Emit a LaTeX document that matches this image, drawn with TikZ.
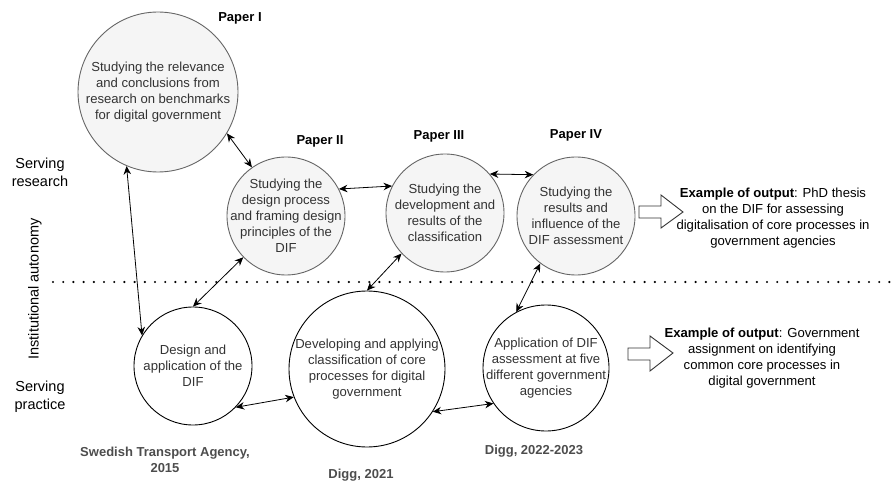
\documentclass[tikz,border=0pt]{standalone}
\usepackage{fontspec}
\setmainfont{Liberation Sans}
\usetikzlibrary{arrows.meta}
\definecolor{paperfill}{HTML}{F5F5F5}
\definecolor{paperline}{HTML}{666666}
\definecolor{papertext}{HTML}{333333}
\definecolor{placetext}{HTML}{4D4D4D}
\begin{document}
\begin{tikzpicture}[x=1pt,y=-1pt,
  font=\fontsize{13.1}{16}\selectfont,
  research/.style={circle, draw=paperline, fill=paperfill, line width=0.9pt,
    minimum size=#1, inner sep=0pt},
  practice/.style={circle, draw=black, fill=white, line width=0.9pt,
    minimum size=#1, inner sep=0pt},
  intext/.style={align=center, text=papertext},
  head/.style={font=\fontsize{13}{16}\selectfont\bfseries, text=black},
  place/.style={font=\fontsize{13}{16}\selectfont\bfseries, text=placetext, align=center},
  side/.style={align=center, text=black, font=\fontsize{14.5}{18}\selectfont},
  link/.style={{Stealth[length=8.5pt,width=7.5pt]}-{Stealth[length=8.5pt,width=7.5pt]}, line width=0.8pt, draw=black},
  outbox/.style={draw=black!80, fill=white, line width=0.9pt, line join=miter},
  outtext/.style={align=center, text=black}
]
\useasboundingbox (0,0) rectangle (894,481);

% side labels
\node[side] (sr) at (40,172) {Serving\\research};
\node[side] (sp) at (40,397) {Serving\\practice};
\node[side, rotate=90] (ia) at (35,289) {Institutional autonomy};

% dotted separator
\draw[line width=2.4pt, line cap=round, dash pattern=on 0pt off 10.2pt] (53,282) -- (894,282);

% research circles
\node[research=160pt] (p1) at (158,92)
  {}; \node[intext] (t1) at (p1.center) {Studying the relevance\\and conclusions from\\research on benchmarks\\for digital government};
\node[research=118pt] (p2) at (286,216)
  {}; \node[intext] (t2) at (p2.center) {Studying the\\design process\\and framing design\\principles of the\\DIF};
\node[research=118pt] (p3) at (445,213)
  {}; \node[intext] (t3) at (p3.center) {Studying the\\development and\\results of the\\classification};
\node[research=118pt] (p4) at (576,216)
  {}; \node[intext] (t4) at (p4.center) {Studying the\\results and\\influence of the\\DIF assessment};

\node[head] (h1) at (240,18) {Paper I};
\node[head] (h2) at (320,141) {Paper II};
\node[head] (h3) at (439,136) {Paper III};
\node[head] (h4) at (576,135) {Paper IV};

% practice circles
\node[practice=118pt] (c1) at (193,366)
  {}; \node[intext] (u1) at (c1.center) {Design and\\application of the\\DIF};
\node[practice=156pt] (c2) at (367,369)
  {}; \node[intext] (u2) at (c2.center) {Developing and applying\\classification of core\\processes for digital\\government};
\node[practice=126pt] (c3) at (546,368)
  {}; \node[intext] (u3) at (c3.center) {Application of DIF\\assessment at five\\different government\\agencies};

\node[place] (l1) at (165,460) {Swedish Transport Agency,\\2015};
\node[place] (l2) at (361,475) {Digg, 2021};
\node[place] (l3) at (534,451) {Digg, 2022-2023};

% links
\draw[link] (p1.-31) -- (p2.125);
\draw[link] (p1.-113) -- (c1.149);
\draw[link] (p2.27) -- (p3.153);
\draw[link] (p3.41) -- (p4.136);
\draw[link] (p2.-136) -- (c1.90);
\draw[link] (p3.-137) -- (c2.90);
\draw[link] (p4.-127) -- (c3.118);
\draw[link] (c1.-44) -- (c2.-159);
\draw[link] (c2.-33) -- (c3.-146);

% outputs
\draw[outbox] (639,206) -- (661,206) -- (661,195) -- (683,212) -- (661,228) -- (661,218) -- (639,218) -- cycle;
\node[outtext] (o1) at (773,218) {\textbf{Example of output}: PhD thesis\\on the DIF for assessing\\digitalisation of core processes in\\government agencies};
\draw[outbox] (628,348) -- (650,348) -- (650,336) -- (673,353) -- (650,371) -- (650,360) -- (628,360) -- cycle;
\node[outtext] (o2) at (762,358) {\textbf{Example of output}: Government\\assignment on identifying\\common core processes in\\digital government};
\end{tikzpicture}
\end{document}
